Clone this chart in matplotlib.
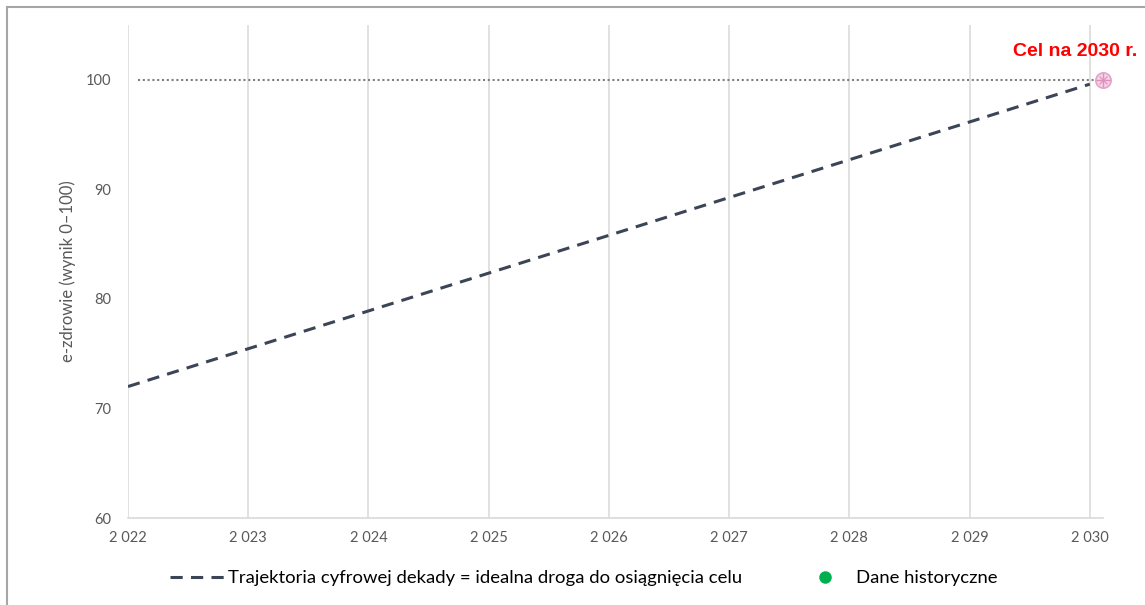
import matplotlib
matplotlib.use("Agg")
import matplotlib.pyplot as plt
from matplotlib.lines import Line2D

plt.rcParams["font.family"] = ["Lato", "DejaVu Sans"]

# Data
years = [2022, 2023, 2024, 2025, 2026, 2027, 2028, 2029, 2030]
trajectory = [72.0, 75.45, 78.9, 82.35, 85.8, 89.25, 92.7, 96.15, 99.6]
target_year = 2030.11
target_value = 100
x_ticks = [2022, 2023, 2024, 2025, 2026, 2027, 2028, 2029, 2030]
x_tick_labels = ["2 022", "2 023", "2 024", "2 025", "2 026", "2 027", "2 028", "2 029", "2 030"]
y_ticks = [60, 70, 80, 90, 100]

GRAY_TEXT = "#595959"
GRID = "#d9d9d9"
LINE = "#3b4556"

fig = plt.figure(figsize=(11.45, 6.05), dpi=100)

# sheet frame around the chart
fig.add_artist(Line2D([7 / 1145, 7 / 1145], [0, 1 - 7 / 605], color="#a6a6a6", lw=1.5,
                      transform=fig.transFigure))
fig.add_artist(Line2D([7 / 1145, 1], [1 - 7 / 605, 1 - 7 / 605], color="#a6a6a6", lw=1.5,
                      transform=fig.transFigure))

ax = fig.add_axes([128 / 1145, 87 / 605, (1103 - 128) / 1145, (518 - 25) / 605])
ax.set_xlim(2022, target_year)
ax.set_ylim(60, 105)

for s in ["top", "right", "left"]:
    ax.spines[s].set_visible(False)
ax.spines["bottom"].set_color(GRID)
ax.spines["bottom"].set_linewidth(1.2)

ax.set_xticks(x_ticks)
ax.set_xticklabels(x_tick_labels)
ax.set_yticks(y_ticks)
ax.tick_params(axis="both", length=0, colors=GRAY_TEXT, labelsize=10.5)
ax.tick_params(axis="x", pad=9)
ax.tick_params(axis="y", pad=12)
ax.xaxis.grid(True, color=GRID, lw=1.1)
ax.set_axisbelow(True)

ax.set_ylabel("e-zdrowie (wynik 0–100)", color=GRAY_TEXT, fontsize=12, labelpad=7)

# target reference line
ax.plot([2022.08, target_year], [target_value, target_value], color="#7f7f7f", lw=1.5,
        linestyle=(0, (1, 1.3)))

# ideal trajectory
ax.plot(years, trajectory, color=LINE, lw=2.2, dashes=(4, 2.7))

# target marker
ax.plot([target_year], [target_value], marker="o", markersize=11, markerfacecolor="#f7d3e8",
        markeredgecolor="#e3a2c9", markeredgewidth=1.2, clip_on=False)
ax.plot([target_year], [target_value], marker="+", markersize=10, color="#e08fbf",
        markeredgewidth=1.0, clip_on=False)
ax.plot([target_year], [target_value], marker="x", markersize=6, color="#e08fbf",
        markeredgewidth=0.8, clip_on=False)
ax.annotate("Cel na 2030 r.", xy=(target_year, target_value), xytext=(-20, 20),
            textcoords="offset points", ha="center", va="center", color="#ff0000",
            fontsize=14, fontweight="bold", family=["Liberation Sans", "DejaVu Sans"],
            annotation_clip=False)

handles = [
    Line2D([], [], color=LINE, lw=2.2, dashes=(4, 2.7)),
    Line2D([], [], color="#00b050", marker="o", linestyle="none", markersize=8),
]
labels = ["Trajektoria cyfrowej dekady = idealna droga do osiągnięcia celu", "Dane historyczne"]
fig.legend(handles, labels, loc="center", bbox_to_anchor=(0.5 + 11 / 1145, 1 - 578 / 605),
           ncol=2, frameon=False, fontsize=13.3, handlelength=3.0, handletextpad=0.15,
           columnspacing=3.0, labelcolor="#000000")

fig.savefig("out.png", dpi=100)
